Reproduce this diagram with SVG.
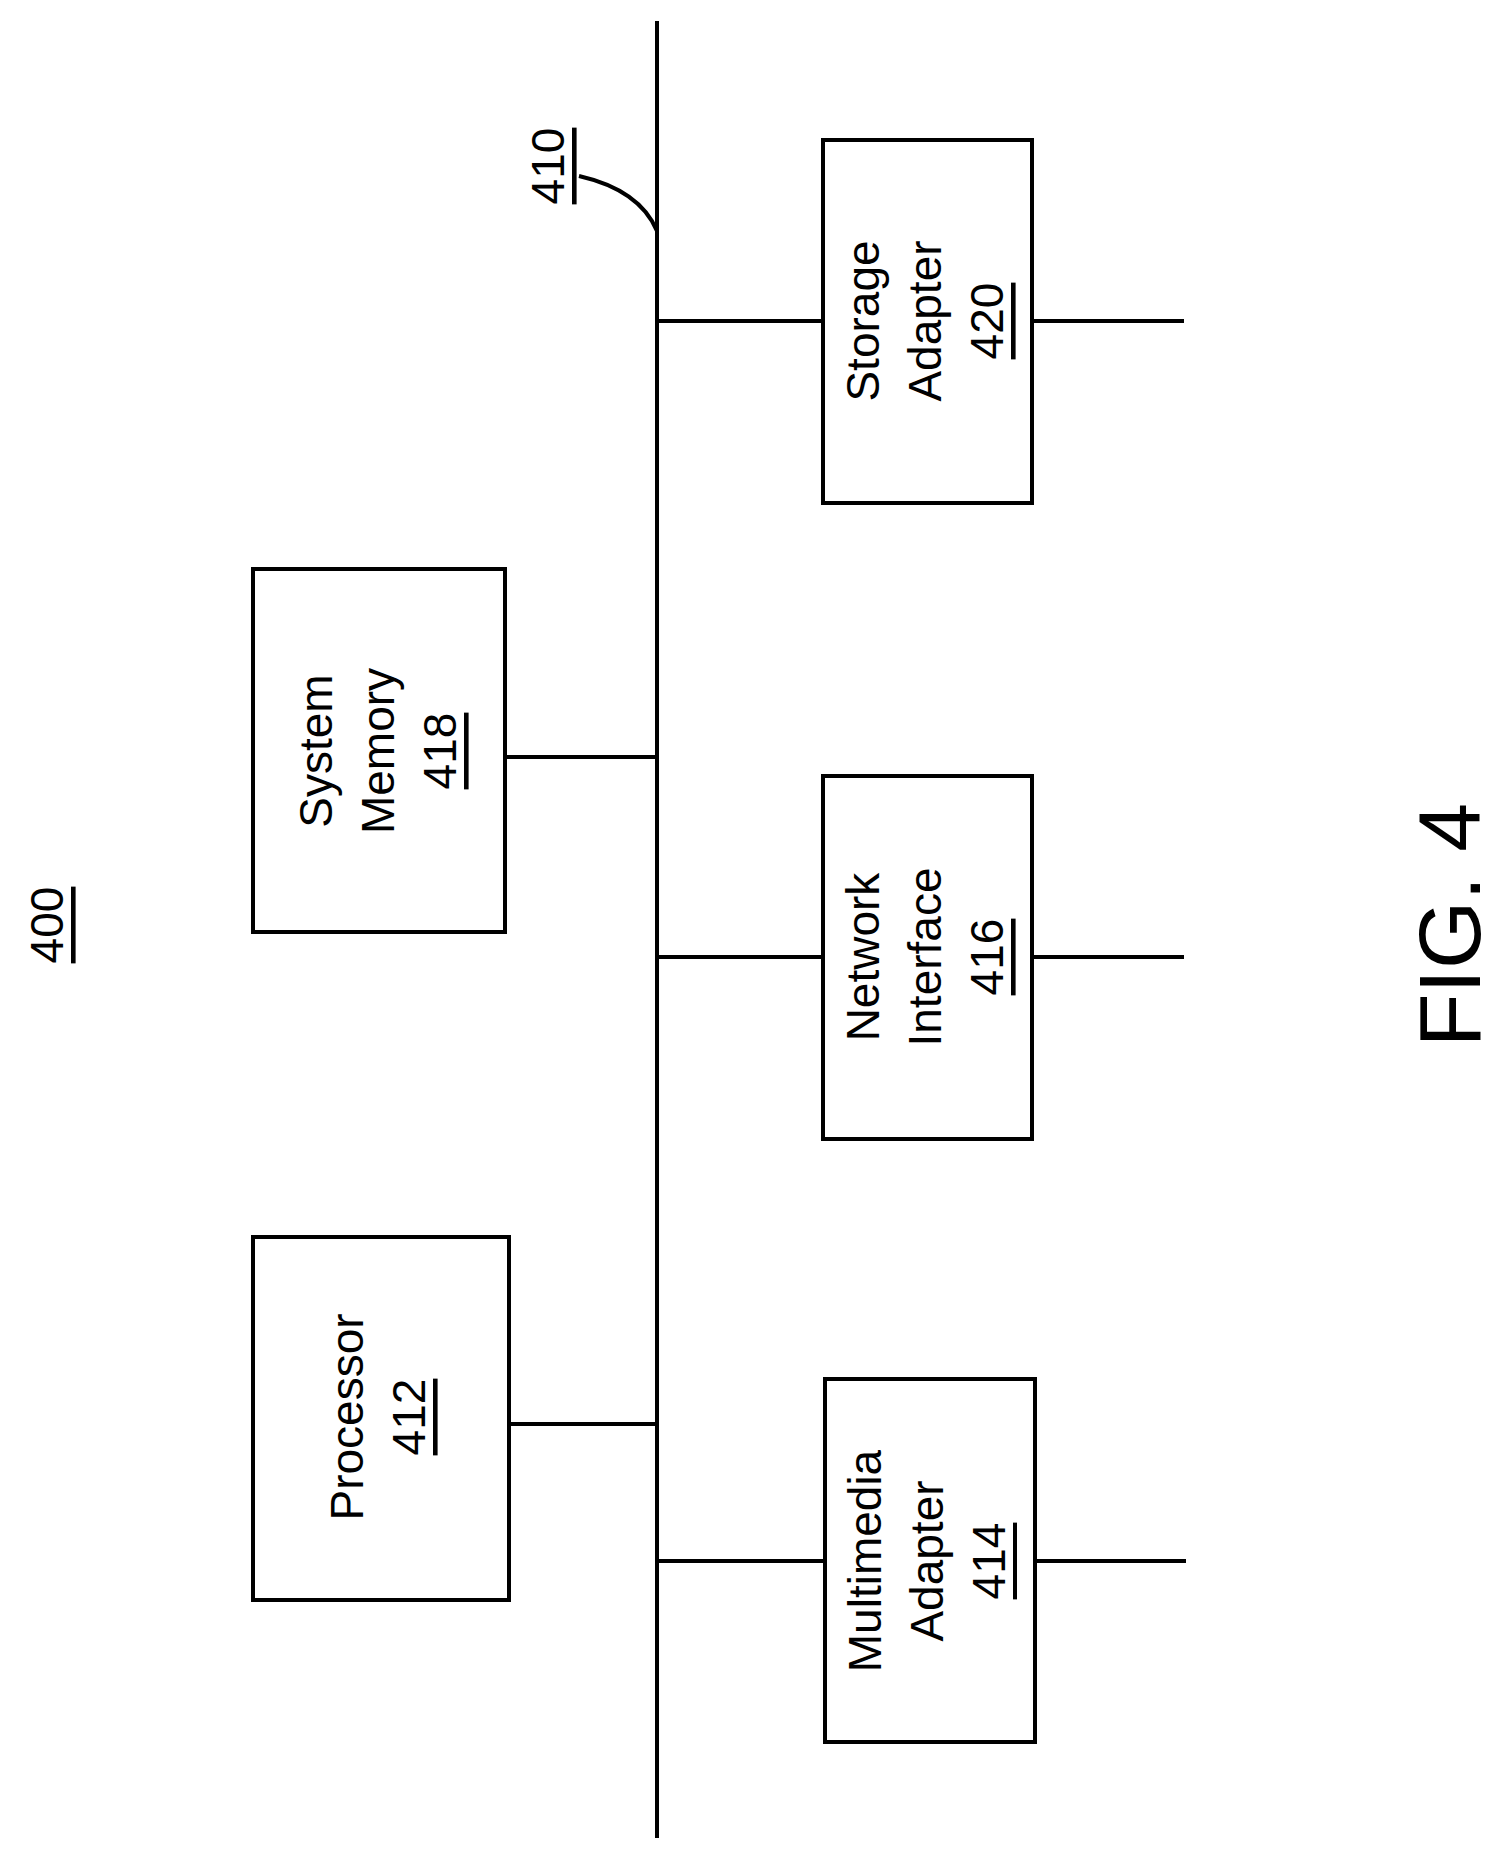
<svg xmlns="http://www.w3.org/2000/svg" width="1506" height="1865" viewBox="0 0 1506 1865">
<style>
.b{fill:#fff;stroke:#000;stroke-width:4}
.l{stroke:#000;stroke-width:4;fill:none}
text{font-family:"Liberation Sans",Arial,sans-serif;font-size:46px;text-anchor:middle;dominant-baseline:central}
.u{text-decoration:underline}
</style>
<rect width="1506" height="1865" fill="#fff"/>
<g id="connectors">
<line class="l" x1="657" y1="21" x2="657" y2="1838"/>
<line class="l" x1="657" y1="321" x2="1184" y2="321"/>
<line class="l" x1="657" y1="957" x2="1184" y2="957"/>
<line class="l" x1="657" y1="1561" x2="1186" y2="1561"/>
<line class="l" x1="505" y1="757" x2="657" y2="757"/>
<line class="l" x1="509" y1="1424" x2="657" y2="1424"/>
<path class="l" d="M579,176 Q640,190 657,231"/>
</g>
<g id="label400"><text class="u" transform="translate(47,925) rotate(-90)">400</text></g>
<g id="label410"><text class="u" transform="translate(548,166) rotate(-90)">410</text></g>
<g id="storage"><rect class="b" x="823" y="140" width="209" height="363"/>
<text transform="translate(863,321) rotate(-90)">Storage</text>
<text transform="translate(925,321) rotate(-90)">Adapter</text>
<text class="u" transform="translate(987,321) rotate(-90)">420</text></g>
<g id="network"><rect class="b" x="823" y="776" width="209" height="363"/>
<text transform="translate(863,957) rotate(-90)">Network</text>
<text transform="translate(925,957) rotate(-90)">Interface</text>
<text class="u" transform="translate(987,957) rotate(-90)">416</text></g>
<g id="multimedia"><rect class="b" x="825" y="1379" width="210" height="363"/>
<text transform="translate(865,1561) rotate(-90)">Multimedia</text>
<text transform="translate(927,1561) rotate(-90)">Adapter</text>
<text class="u" transform="translate(989,1561) rotate(-90)">414</text></g>
<g id="memory"><rect class="b" x="253" y="569" width="252" height="363"/>
<text transform="translate(316,751) rotate(-90)">System</text>
<text transform="translate(378,751) rotate(-90)">Memory</text>
<text class="u" transform="translate(440,751) rotate(-90)">418</text></g>
<g id="processor"><rect class="b" x="253" y="1237" width="256" height="363"/>
<text transform="translate(347,1417) rotate(-90)">Processor</text>
<text class="u" transform="translate(409,1417) rotate(-90)">412</text></g>
<g id="fig"><text style="font-size:88px" transform="translate(1449,925) rotate(-90)">FIG. 4</text></g>
</svg>
